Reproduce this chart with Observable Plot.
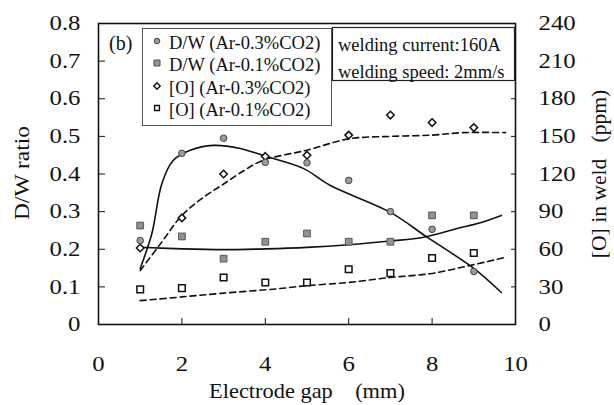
<!DOCTYPE html>
<html>
<head>
<meta charset="utf-8">
<script src="https://cdn.jsdelivr.net/npm/d3@7"></script>
<script src="https://cdn.jsdelivr.net/npm/@observablehq/plot@0.6"></script>
<style>
  html, body { margin: 0; padding: 0; background: #fff; }
  #chart { width: 614px; height: 405px; position: relative; }
  #chart svg, #chart svg text { font-family: "Liberation Serif", "DejaVu Serif" !important; }
</style>
</head>
<body>
<div id="chart"></div>
<script>
// ---- data ----
const gap = [1, 2, 3, 4, 5, 6, 7, 8, 9];                       // electrode gap, mm
const dwAr03 = [0.223, 0.455, 0.495, 0.431, 0.430, 0.383, 0.300, 0.253, 0.141]; // D/W, Ar-0.3%CO2
const dwAr01 = [0.263, 0.234, 0.175, 0.220, 0.242, 0.220, 0.220, 0.290, 0.290]; // D/W, Ar-0.1%CO2
const oAr03 = [61, 85, 120, 134, 135, 151, 167, 161, 157];      // [O] ppm, Ar-0.3%CO2
const oAr01 = [28, 29, 37.5, 33.5, 33.5, 44, 41, 53, 57];        // [O] ppm, Ar-0.1%CO2

// fitted curves
const fitDw03Gap = [1.0, 1.28, 1.52, 1.79, 2.2, 2.75, 3.4, 3.95, 4.91, 5.55, 7.0, 7.88, 9.0, 9.66];
const fitDw03 = [0.149, 0.242, 0.375, 0.436, 0.463, 0.476, 0.468, 0.449, 0.415, 0.370, 0.298, 0.232, 0.149, 0.085];
const fitDw01Gap = [1.0, 1.5, 2, 3, 4, 5, 6, 7, 7.8, 8.6, 9.2, 9.66];
const fitDw01 = [0.205, 0.203, 0.201, 0.199, 0.201, 0.205, 0.212, 0.222, 0.232, 0.255, 0.272, 0.290];
const fitO03Gap = [1.0, 1.5, 2.0, 2.5, 3.0, 3.5, 3.95, 5.0, 6.0, 7.0, 8.0, 8.75, 9.76];
const fitO03 = [43, 65, 87, 101, 112, 123, 131, 139, 148, 150, 151, 153, 153];
const fitO01Gap = [1.0, 2, 3, 4.3, 5, 6, 7, 7.95, 8.9, 9.75];
const fitO01 = [19, 22, 25, 28.5, 31, 33.5, 37.5, 40.5, 47, 53.5];

const xTicks = [0, 2, 4, 6, 8, 10];
const yTicks = [0, 0.1, 0.2, 0.3, 0.4, 0.5, 0.6, 0.7, 0.8];
const ppmTicks = [0, 30, 60, 90, 120, 150, 180, 210, 240];
const seriesNames = ["D/W (Ar-0.3%CO2)", "D/W (Ar-0.1%CO2)", "[O] (Ar-0.3%CO2)", "[O] (Ar-0.1%CO2)"];
const notes = ["welding current:160A", "welding speed: 2mm/s"];
const panelLabel = "(b)";
const xTitle = "Electrode gap\u00a0\u00a0\u00a0\u00a0(mm)";
const yTitle = "D/W ratio";
const y2Title = "[O] in weld\u00a0\u00a0\u00a0(ppm)";

// right axis (ppm) maps onto the left axis (D/W): 240 ppm <-> 0.8
const PPM_PER_DW = ppmTicks[ppmTicks.length - 1] / yTicks[yTicks.length - 1];

const pts = (xs, ys) => xs.map((x, i) => ({gap: x, v: ys[i]}));
const dw03 = pts(gap, dwAr03), dw01 = pts(gap, dwAr01);
const o03 = pts(gap, oAr03), o01 = pts(gap, oAr01);
const fDw03 = pts(fitDw03Gap, fitDw03), fDw01 = pts(fitDw01Gap, fitDw01);
const fO03 = pts(fitO03Gap, fitO03), fO01 = pts(fitO01Gap, fitO01);
const ppm = d => d.v / PPM_PER_DW;

const INK = "#111";
const FONT = '"Liberation Serif", "DejaVu Serif"';
const chart = Plot.plot({
  width: 614, height: 405,
  marginLeft: 98, marginRight: 99, marginTop: 23, marginBottom: 81,
  style: {fontFamily: FONT, fontSize: "21px", color: INK, background: "#fff"},
  x: {domain: [0, 10]},
  y: {domain: [0, 0.8]},
  marks: [
    // axes: labels
    Plot.axisX({ticks: xTicks, tickSize: 0, tickPadding: 32, tickFormat: d => d, label: null, fontSize: 21, fontFamily: FONT}),
    Plot.axisY({anchor: "left", ticks: yTicks, tickSize: 0, tickPadding: 18, tickFormat: d => d === 0 ? "0" : d3.format(".1f")(d), label: null, fontSize: 21, fontFamily: FONT}),
    Plot.axisY({anchor: "right", ticks: yTicks, tickSize: 0, tickPadding: 23, tickFormat: d => String(Math.round(d * PPM_PER_DW)), label: null, fontSize: 21, fontFamily: FONT}),
    // axes: inward ticks
    Plot.axisX({ticks: [2, 4, 6, 8], tickSize: -6, fill: "none", label: null, stroke: INK}),
    Plot.axisY({anchor: "left", ticks: yTicks.slice(1, -1), tickSize: -7, fill: "none", label: null, stroke: INK}),
    Plot.axisY({anchor: "right", ticks: yTicks.slice(1, -1), tickSize: -5, fill: "none", label: null, stroke: INK}),
    // fitted curves
    Plot.line(fDw03, {x: "gap", y: "v", curve: "catmull-rom", stroke: INK, strokeWidth: 1.6}),
    Plot.line(fDw01, {x: "gap", y: "v", curve: "catmull-rom", stroke: INK, strokeWidth: 1.6}),
    Plot.line(fO03, {x: "gap", y: ppm, curve: "catmull-rom", stroke: INK, strokeWidth: 1.6, strokeDasharray: "6,4"}),
    Plot.line(fO01, {x: "gap", y: ppm, curve: "catmull-rom", stroke: INK, strokeWidth: 1.6, strokeDasharray: "6,4"}),
    // points
    Plot.dot(o03, {x: "gap", y: ppm, symbol: "diamond2", r: 3.4, stroke: INK, strokeWidth: 1.5, fill: "#fff"}),
    Plot.dot(o01, {x: "gap", y: ppm, symbol: "square2", r: 4.2, stroke: INK, strokeWidth: 1.5, fill: "#fff"}),
    Plot.dot(dw01, {x: "gap", y: "v", symbol: "square", r: 3.8, fill: "#929292", stroke: "#555", strokeWidth: 1}),
    Plot.dot(dw03, {x: "gap", y: "v", symbol: "circle", r: 3.3, fill: "#9c9c9c", stroke: "#444", strokeWidth: 1}),
    Plot.frame({stroke: INK, strokeWidth: 1.6})
  ]
});
document.getElementById("chart").appendChild(chart);

const svg = d3.select(chart);

// widen tick-label glyphs (reference font is broad) around their anchor
function stretch(el, sx) {
  const bb = el.getBBox();
  const anchor = getComputedStyle(el).textAnchor;
  const ax = anchor === "end" ? bb.x + bb.width : anchor === "middle" ? bb.x + bb.width / 2 : bb.x;
  const t = el.getAttribute("transform") || "";
  el.setAttribute("transform", `${t} translate(${ax},0) scale(${sx},1) translate(${-ax},0)`);
}
chart.querySelectorAll('g[aria-label="x-axis tick label"] text, g[aria-label="y-axis tick label"] text')
  .forEach(el => stretch(el, 1.18));

// axis titles
svg.append("text").text(xTitle)
  .attr("transform", "translate(307,398) scale(1.12,1)")
  .attr("text-anchor", "middle").attr("font-size", 20).attr("fill", INK);
svg.append("text").text(yTitle)
  .attr("transform", "translate(29,173) rotate(-90) scale(1.12,1)")
  .attr("text-anchor", "middle").attr("font-size", 21).attr("fill", INK);
svg.append("text").text(y2Title)
  .attr("transform", "translate(606,174) rotate(-90) scale(1.08,1)")
  .attr("text-anchor", "middle").attr("font-size", 20).attr("fill", INK);

// panel label
svg.append("text").text(panelLabel)
  .attr("x", 109).attr("y", 43).attr("dy", "0.36em").attr("text-anchor", "start")
  .attr("font-size", 20).attr("fill", INK);

// legend box
const lg = svg.append("g");
lg.append("rect").attr("x", 142.5).attr("y", 28.5).attr("width", 189).attr("height", 97)
  .attr("fill", "#fff").attr("stroke", "#555").attr("stroke-width", 1);
const legendY = [41, 63, 86, 108];
const symStyles = [
  {type: d3.symbolCircle, size: Math.PI * 2.8 * 2.8, fill: "#9c9c9c", stroke: "#444", sw: 1},
  {type: d3.symbolSquare, size: 36, fill: "#929292", stroke: "#555", sw: 1},
  {type: d3.symbolDiamond2, size: 26, fill: "#fff", stroke: INK, sw: 1.4},
  {type: d3.symbolSquare2, size: 30, fill: "#fff", stroke: INK, sw: 1.4}
];
seriesNames.forEach((name, i) => {
  const s = symStyles[i];
  lg.append("path").attr("d", d3.symbol(s.type, s.size)())
    .attr("transform", `translate(157,${legendY[i]})`)
    .attr("fill", s.fill).attr("stroke", s.stroke).attr("stroke-width", s.sw);
  lg.append("text").text(name).attr("x", 169).attr("y", legendY[i] + 1).attr("dy", "0.36em")
    .attr("text-anchor", "start").attr("font-size", 18.5).attr("fill", INK);
});

// annotation box
const nb = svg.append("g");
nb.append("rect").attr("x", 332.5).attr("y", 27.5).attr("width", 182).attr("height", 53)
  .attr("fill", "#fff").attr("stroke", "#222").attr("stroke-width", 1.2);
notes.forEach((t, i) => {
  nb.append("text").text(t).attr("x", 338).attr("y", [44, 71][i]).attr("dy", "0.36em")
    .attr("text-anchor", "start").attr("font-size", 18.5).attr("fill", INK);
});
</script>
</body>
</html>
